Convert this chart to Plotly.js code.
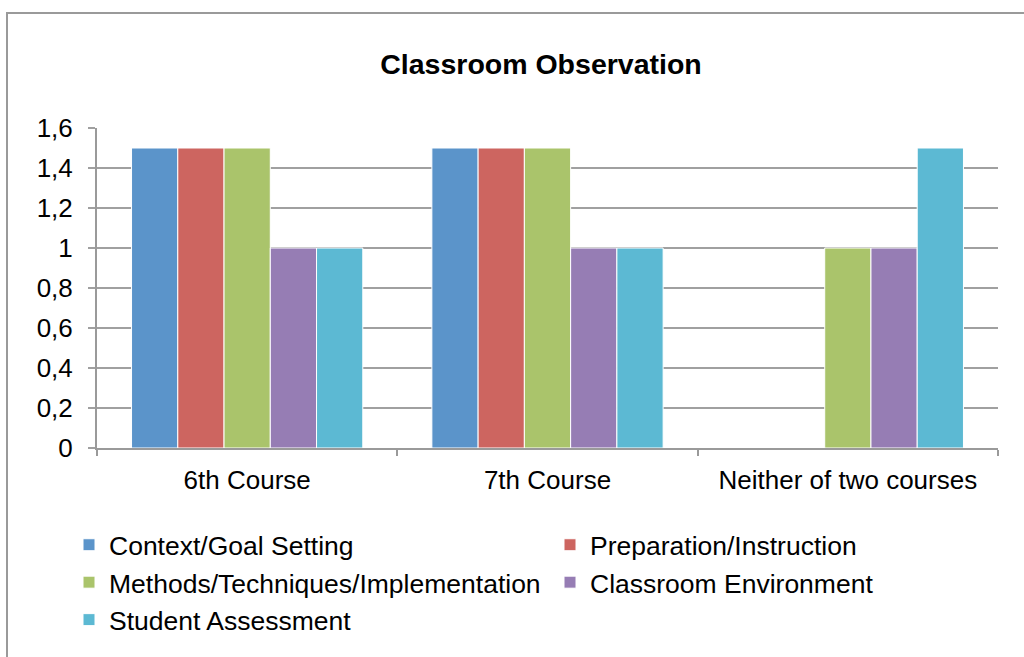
<!DOCTYPE html>
<html>
<head>
<meta charset="utf-8">
<script src="https://cdn.plot.ly/plotly-3.0.1.min.js"></script>
<style>
  html, body { margin: 0; padding: 0; background: #fff; overflow: hidden; }
  #wrap { position: relative; width: 1024px; height: 657px; overflow: hidden; }
  #chart { width: 1060px; height: 657px; }
  #frame { position: absolute; left: 6px; top: 12px; width: 1100px; height: 700px;
           border: 2px solid #9a9a9a; box-sizing: border-box; pointer-events: none; }
</style>
</head>
<body>
<div id="wrap">
  <div id="chart"></div>
  <div id="frame"></div>
</div>
<script>
const categories = ["6th Course", "7th Course", "Neither of two courses"];
const seriesNames = [
  "Context/Goal Setting",
  "Preparation/Instruction",
  "Methods/Techniques/Implementation",
  "Classroom Environment",
  "Student Assessment"
];
const contextGoal = [1.5, 1.5, 0];
const preparation = [1.5, 1.5, 0];
const methods = [1.5, 1.5, 1];
const environment = [1, 1, 1];
const assessment = [1, 1, 1.5];
const yTicks = [0, 0.2, 0.4, 0.6, 0.8, 1, 1.2, 1.4, 1.6];

const colors = ["#5B94CA", "#CD6560", "#AAC46B", "#967DB4", "#5CB9D3"];
const values = [contextGoal, preparation, methods, environment, assessment];

const traces = values.map((v, i) => ({
  type: "bar",
  name: seriesNames[i],
  x: categories,
  y: v,
  marker: { color: colors[i], line: { color: "#ffffff", width: 1 } },
  hoverinfo: "skip"
}));

const FIG_W = 1060;

const layout = {
  width: FIG_W,
  height: 657,
  paper_bgcolor: "#ffffff",
  plot_bgcolor: "#ffffff",
  separators: ", ",
  margin: { l: 97, r: FIG_W - 998, t: 128, b: 209, autoexpand: false },
  barmode: "group",
  bargap: 0.23,
  bargroupgap: 0,
  font: { family: "Liberation Sans, Arial, sans-serif", color: "#000", size: 26 },
  title: {
    text: "<b>Classroom Observation</b>",
    font: { family: "Liberation Sans, Arial, sans-serif", size: 28.5, color: "#000" },
    x: 541 / FIG_W, xanchor: "center", xref: "container",
    y: 1 - 64 / 657, yanchor: "middle", yref: "container"
  },
  xaxis: {
    type: "category",
    showgrid: false,
    showline: true,
    linecolor: "#9a9a9a",
    linewidth: 2,
    ticks: "outside",
    tickson: "boundaries",
    ticklen: 6,
    tickwidth: 2,
    tickcolor: "#9a9a9a",
    tickfont: { size: 26, color: "#000" },
    ticklabelstandoff: 8,
    zeroline: false
  },
  yaxis: {
    range: [0, 1.6],
    tickvals: yTicks,
    showgrid: true,
    gridcolor: "#a0a0a0",
    gridwidth: 2,
    showline: true,
    linecolor: "#9a9a9a",
    linewidth: 2,
    ticks: "outside",
    ticklen: 7,
    tickwidth: 2,
    tickcolor: "#a0a0a0",
    tickfont: { size: 26, color: "#000" },
    ticklabelstandoff: 10,
    zeroline: false,
    fixedrange: true
  },
  showlegend: true,
  legend: {
    orientation: "h",
    x: (69 - 97) / 901,
    xanchor: "left",
    y: (448 - 521) / 320,
    yanchor: "top",
    entrywidth: 436,
    entrywidthmode: "pixels",
    traceorder: "normal",
    font: { size: 26.5, color: "#000" },
    itemwidth: 30,
    bgcolor: "rgba(0,0,0,0)"
  }
};

Plotly.newPlot("chart", traces, layout, { displayModeBar: false, staticPlot: true });
</script>
</body>
</html>
